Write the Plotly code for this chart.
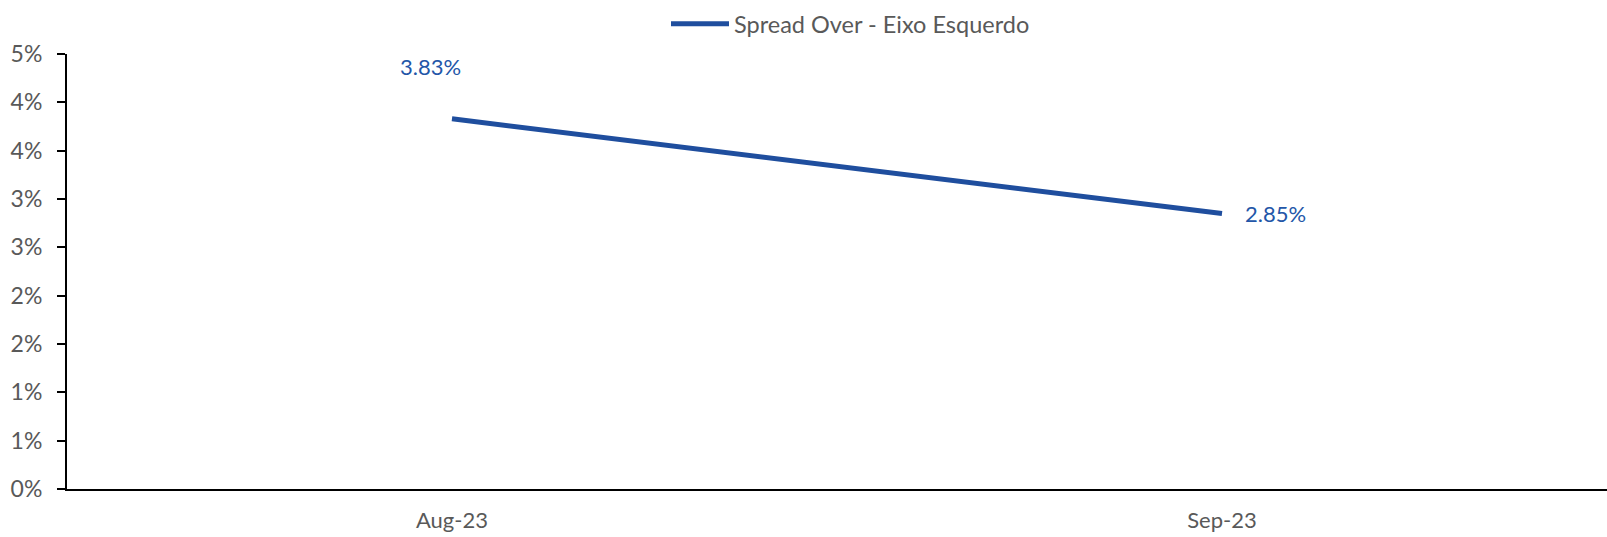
import plotly.graph_objects as go

categories = ["Aug-23", "Sep-23"]
spread_over = [3.83, 2.85]
series_name = "Spread Over - Eixo Esquerdo"
y_tick_vals = [0, 0.5, 1.0, 1.5, 2.0, 2.5, 3.0, 3.5, 4.0, 4.5]
y_tick_text = ["0%", "1%", "1%", "2%", "2%", "3%", "3%", "4%", "4%", "5%"]

LINE = "#1F4E9E"
LABEL = "#2356A8"
GRAY = "#595959"
FONT = "Lato"
FS = 23

fig = go.Figure()
fig.add_trace(go.Scatter(
    x=categories, y=spread_over, mode="lines", name=series_name,
    line=dict(color=LINE, width=5), showlegend=True,
))

# data labels
offsets = [(-22, -52), (53, 0)]
for c, v, (dx, dy) in zip(categories, spread_over, offsets):
    fig.add_annotation(
        x=c, y=v, xref="x", yref="y", text=f"{v:.2f}%", showarrow=False,
        xshift=dx, yshift=-dy, font=dict(family=FONT, size=FS - 1, color=LABEL),
    )

fig.update_layout(
    width=1607, height=537,
    margin=dict(l=67, r=0, t=54, b=48, autoexpand=False),
    paper_bgcolor="white", plot_bgcolor="white",
    font=dict(family=FONT, size=FS, color=GRAY),
    showlegend=True,
    legend=dict(orientation="h", x=(681 - 67 - 15) / 1540, xanchor="left",
                y=1 - 24 / 537, yanchor="middle", yref="container",
                font=dict(family=FONT, size=23.5, color=GRAY),
                bgcolor="rgba(0,0,0,0)", itemwidth=58),
    xaxis=dict(
        type="category", range=[-0.5, 1.5], showgrid=False, zeroline=False,
        showline=True, linecolor="#000000", linewidth=2, ticks="",
        tickfont=dict(family=FONT, size=22, color=GRAY), ticklabelstandoff=11,
    ),
    yaxis=dict(
        range=[0, 4.5], tickvals=y_tick_vals, ticktext=y_tick_text,
        showgrid=False, zeroline=False, showline=True, linecolor="#000000",
        linewidth=2, ticks="outside", ticklen=8, tickwidth=2, tickcolor="#000000",
        tickfont=dict(family=FONT, size=FS, color=GRAY), ticklabelstandoff=10,
    ),
)

fig.write_html("out.html")
